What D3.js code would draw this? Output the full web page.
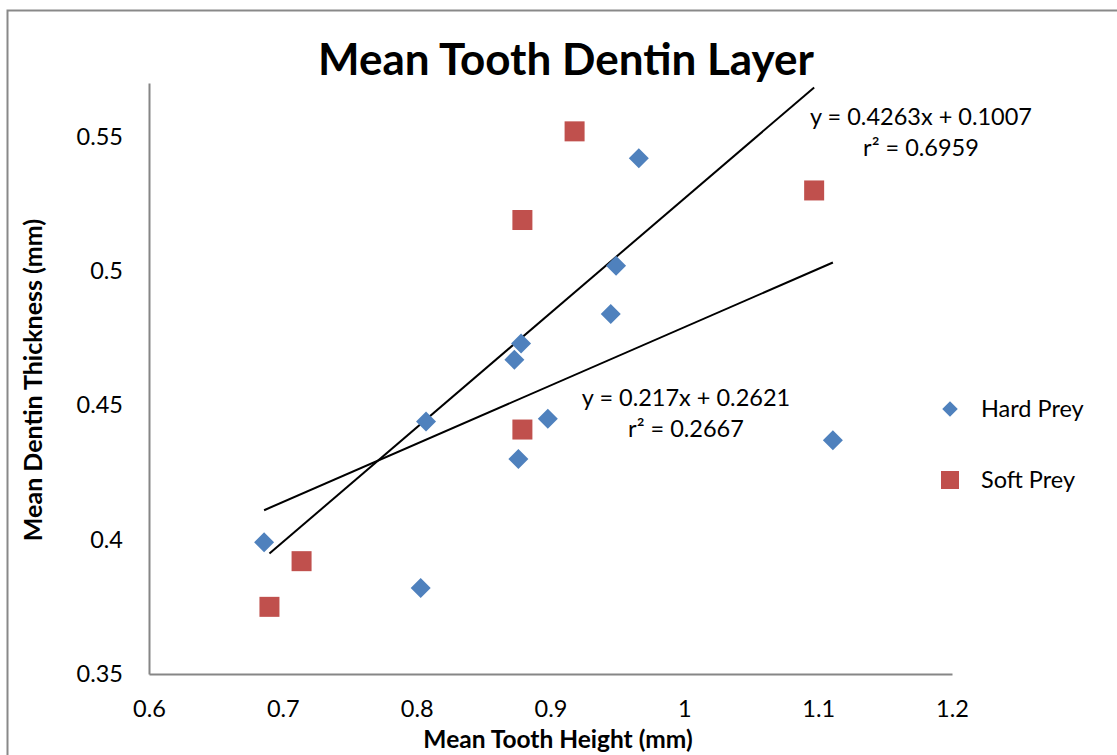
<!DOCTYPE html>
<html>
<head>
<meta charset="utf-8">
<script src="https://cdn.jsdelivr.net/npm/d3@7"></script>
<style>
  body { margin: 0; background: #fff; }
  svg { display: block; font-family: Lato, "Open Sans", sans-serif; }
</style>
</head>
<body>
<div id="chart"></div>
<script>
// Data
const hardX = [0.686, 0.803, 0.807, 0.873, 0.878, 0.876, 0.898, 0.945, 0.949, 0.966, 1.111];
const hardY = [0.399, 0.382, 0.444, 0.467, 0.473, 0.430, 0.445, 0.484, 0.502, 0.542, 0.437];
const softX = [0.690, 0.714, 0.879, 0.879, 0.918, 1.097];
const softY = [0.375, 0.392, 0.519, 0.441, 0.552, 0.530];

// trendline coefficients as printed on the chart
const hardFit = { slope: 0.217, intercept: 0.2621, r2: "0.2667" };
const softFit = { slope: 0.4263, intercept: 0.1007, r2: "0.6959" };

const xTicks = [0.6, 0.7, 0.8, 0.9, 1, 1.1, 1.2];
const yTicks = [0.35, 0.4, 0.45, 0.5, 0.55];

const width = 1117, height = 755;
const margin = { left: 149, top: 83, right: 1117 - 952, bottom: 755 - 674 };
const fontSize = 23.5;

const svg = d3.select("#chart").append("svg")
    .attr("width", width)
    .attr("height", height);

// outer chart border (runs off the right and bottom edge)
svg.append("rect")
    .attr("x", 7.5).attr("y", 10.5)
    .attr("width", 1130).attr("height", 770)
    .attr("fill", "none")
    .attr("stroke", "#898989")
    .attr("stroke-width", 2);

const x = d3.scaleLinear().domain([0.6, 1.2]).range([margin.left, width - margin.right]);
const y = d3.scaleLinear().domain([0.35, 0.57]).range([height - margin.bottom, margin.top]);

// axes - Excel style, no tick marks
const xAxis = svg.append("g")
    .attr("transform", "translate(0," + y(0.35) + ")")
    .call(d3.axisBottom(x).tickValues(xTicks).tickSize(0).tickPadding(26).tickFormat(d3.format("")));
const yAxis = svg.append("g")
    .attr("transform", "translate(" + x(0.6) + ",0)")
    .call(d3.axisLeft(y).tickValues(yTicks).tickSize(0).tickPadding(26).tickFormat(d3.format("")));

[xAxis, yAxis].forEach(function(a) {
    a.select(".domain").attr("stroke", "#868686").attr("stroke-width", 2);
    a.selectAll("text").attr("font-size", fontSize).attr("fill", "#000").style("font-family", "Lato, 'Open Sans', sans-serif");
});

// trendlines, drawn across the x range of each series
function drawFit(fit, xs) {
    const ext = d3.extent(xs);
    svg.append("line")
        .attr("x1", x(ext[0])).attr("y1", y(fit.slope * ext[0] + fit.intercept))
        .attr("x2", x(ext[1])).attr("y2", y(fit.slope * ext[1] + fit.intercept))
        .attr("stroke", "#000")
        .attr("stroke-width", 2);
}
drawFit(hardFit, hardX);
drawFit(softFit, softX);

const blue = "#4F81BD", red = "#C0504D";
const diamond = d3.symbol().type(d3.symbolSquare).size(200);

svg.append("g").selectAll("path")
    .data(d3.range(hardX.length))
    .enter().append("path")
    .attr("d", diamond)
    .attr("transform", i => "translate(" + x(hardX[i]) + "," + y(hardY[i]) + ") rotate(45)")
    .attr("fill", blue);

svg.append("g").selectAll("rect")
    .data(d3.range(softX.length))
    .enter().append("rect")
    .attr("x", i => x(softX[i]) - 10)
    .attr("y", i => y(softY[i]) - 10)
    .attr("width", 20).attr("height", 20)
    .attr("fill", red);

// trendline equations
function eqLabel(fit, cx, cy) {
    const sign = fit.intercept >= 0 ? " + " : " - ";
    svg.append("text")
        .attr("x", cx).attr("y", cy)
        .attr("text-anchor", "middle")
        .attr("font-size", fontSize)
        .text("y = " + fit.slope + "x" + sign + Math.abs(fit.intercept));
    svg.append("text")
        .attr("x", cx).attr("y", cy + 31)
        .attr("text-anchor", "middle")
        .attr("font-size", fontSize)
        .text("r\u00B2 = " + fit.r2);
}
eqLabel(softFit, 921, 125);
eqLabel(hardFit, 686, 406);

// title
svg.append("text")
    .attr("x", 566).attr("y", 75)
    .attr("text-anchor", "middle")
    .attr("font-size", 44)
    .attr("font-weight", "bold")
    .text("Mean Tooth Dentin Layer");

// axis titles
svg.append("text")
    .attr("x", 558).attr("y", 748)
    .attr("text-anchor", "middle")
    .attr("font-size", 24.5)
    .attr("font-weight", "bold")
    .text("Mean Tooth Height (mm)");

svg.append("text")
    .attr("transform", "translate(42,380) rotate(-90)")
    .attr("text-anchor", "middle")
    .attr("font-size", 25)
    .attr("font-weight", "bold")
    .text("Mean Dentin Thickness (mm)");

// legend
const legend = svg.append("g");
legend.append("path")
    .attr("d", d3.symbol().type(d3.symbolSquare).size(120))
    .attr("transform", "translate(950,409) rotate(45)")
    .attr("fill", blue);
legend.append("text")
    .attr("x", 981).attr("y", 417)
    .attr("font-size", fontSize)
    .text("Hard Prey");
legend.append("rect")
    .attr("x", 941).attr("y", 471)
    .attr("width", 18).attr("height", 18)
    .attr("fill", red);
legend.append("text")
    .attr("x", 981).attr("y", 488)
    .attr("font-size", fontSize)
    .text("Soft Prey");
</script>
</body>
</html>
